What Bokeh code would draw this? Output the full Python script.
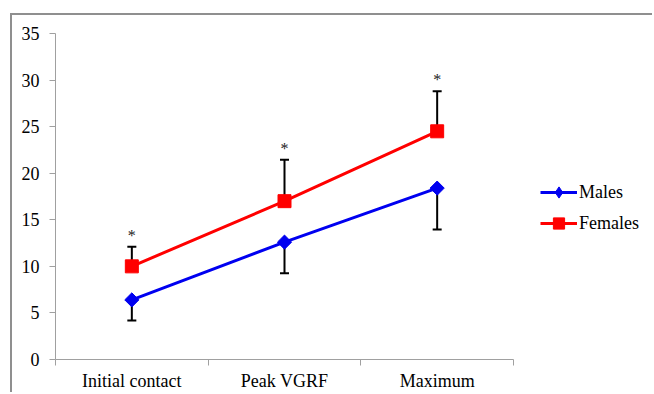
import numpy as np
from bokeh.plotting import figure
from bokeh.models import (ColumnDataSource, Range1d, FixedTicker, Whisker, TeeHead,
                          Legend, LegendItem)
from bokeh.core.properties import value
from bokeh.embed import file_html
from bokeh.resources import INLINE

categories = ["Initial contact", "Peak VGRF", "Maximum"]
males = [6.4, 12.6, 18.4]
males_lower = [4.2, 9.25, 13.95]
females = [10.0, 17.0, 24.5]
females_upper = [12.1, 21.45, 28.8]
marks = ["*", "*", "*"]
y_ticks = [0, 5, 10, 15, 20, 25, 30, 35]

x = [i + 0.5 for i in range(len(categories))]
FONT = "Liberation Serif"

W, H = 642, 379
LEFT = 43
AXIS_PX = 458            # pixel length of the category axis
frame_w = W - LEFT
x_end = len(categories) * frame_w / AXIS_PX

p = figure(width=W, height=H, output_backend="svg", toolbar_location=None,
           x_range=Range1d(0, x_end), y_range=Range1d(0, 35),
           min_border_left=LEFT, min_border_right=0, min_border_top=18, min_border_bottom=35)
p.margin = (13, 0, 0, 10)
p.styles = {"border-left": "2px solid #8f8f8f", "border-top": "2px solid #8f8f8f"}
p.outline_line_color = None
p.xgrid.visible = False
p.ygrid.visible = False
p.background_fill_color = "white"
p.border_fill_color = "white"

# y axis
p.yaxis.ticker = FixedTicker(ticks=y_ticks)
p.yaxis.axis_line_color = "#a0a0a0"
p.yaxis.major_tick_line_color = "#a0a0a0"
p.yaxis.major_tick_out = 6
p.yaxis.major_tick_in = 0
p.yaxis.minor_tick_line_color = None
p.yaxis.major_label_text_font = FONT
p.yaxis.major_label_text_font_size = "18px"
p.yaxis.major_label_text_color = "black"
p.yaxis.major_label_standoff = 10

# x axis
p.xaxis.bounds = (0, len(categories))
p.xaxis.ticker = FixedTicker(ticks=x, minor_ticks=list(range(len(categories) + 1)))
p.xaxis.major_label_overrides = {xi: c for xi, c in zip(x, categories)}
p.xaxis.axis_line_color = "#a0a0a0"
p.xaxis.major_tick_line_color = None
p.xaxis.major_tick_out = 0
p.xaxis.minor_tick_line_color = "#a0a0a0"
p.xaxis.minor_tick_out = 6
p.xaxis.minor_tick_in = 0
p.xaxis.major_label_text_font = FONT
p.xaxis.major_label_text_font_size = "18px"
p.xaxis.major_label_text_color = "black"
p.xaxis.major_label_standoff = 5

src_m = ColumnDataSource(dict(x=x, y=males, lo=males_lower))
src_f = ColumnDataSource(dict(x=x, y=females, up=females_upper, m=marks))

wm = Whisker(source=src_m, base="x", upper="y", lower="lo", dimension="height",
             line_color="black", line_width=2, upper_head=None,
             lower_head=TeeHead(size=9, line_color="black", line_width=2), level="underlay")
wf = Whisker(source=src_f, base="x", upper="up", lower="y", dimension="height",
             line_color="black", line_width=2, lower_head=None,
             upper_head=TeeHead(size=9, line_color="black", line_width=2), level="underlay")
p.add_layout(wm)
p.add_layout(wf)

lm = p.line("x", "y", source=src_m, line_color="#0000f0", line_width=3)
# diamond (used for the legend key); fully covered by the rotated square drawn on top
dm = p.scatter("x", "y", source=src_m, marker="diamond", size=12,
               fill_color="#0000f0", line_color="#0000f0")
sm = p.scatter("x", "y", source=src_m, marker="square", angle=np.pi / 4, size=10,
               fill_color="#0000f0", line_color="#0000f0")
lf = p.line("x", "y", source=src_f, line_color="#ff0000", line_width=3)
sf = p.scatter("x", "y", source=src_f, marker="square", size=13,
               fill_color="#ff0000", line_color="#ff0000")

p.text("x", "up", text="m", source=src_f, text_align="center", text_baseline="bottom",
       y_offset=-3, text_font=value(FONT), text_font_size="16px", text_color="#222222")

legend = Legend(items=[LegendItem(label="Males", renderers=[lm, dm]),
                       LegendItem(label="Females", renderers=[lf, sf])],
                location=(485, 122), padding=0, margin=0, border_line_color=None,
                background_fill_alpha=0, glyph_width=37, glyph_height=28, spacing=3,
                label_standoff=2, label_text_font=FONT, label_text_font_size="18px",
                label_text_color="black")
p.add_layout(legend, "center")

open("out.html", "w").write(file_html(p, INLINE))
